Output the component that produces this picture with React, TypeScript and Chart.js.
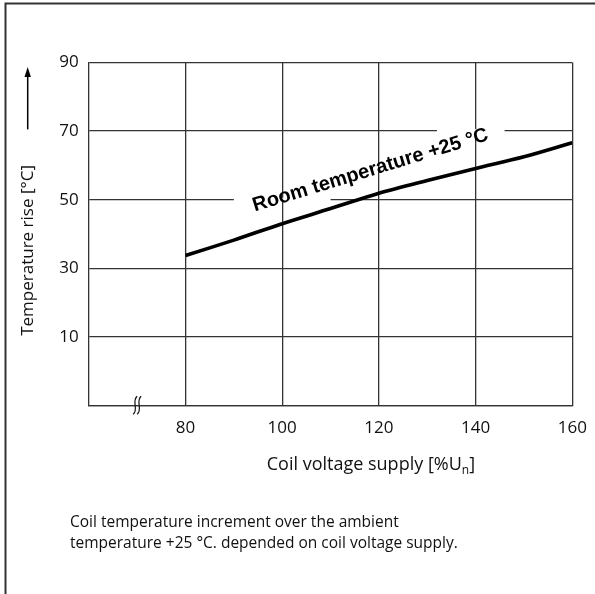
import React, { useEffect, useRef } from "react";
import { Chart, registerables } from "chart.js";

Chart.register(...registerables);

// ---- data ----
const voltage = [80, 90, 100, 110, 120, 130, 140, 150, 160];
const tempRise = [33.7, 38.2, 43.0, 47.4, 51.9, 55.6, 59.1, 62.5, 66.6];
const xTicks = [80, 100, 120, 140, 160];
const yTicks = [-10, 10, 30, 50, 70, 90];
const xMin = 60;
const xMax = 160;
const yMin = -10;
const yMax = 90;
const breakAt = 70;
const labelText = "Room temperature +25 °C";
const labelAt = [118.6, 57];
const gapY = [50, 70];
const gapFrom = [90, 132];
const gapTo = [110, 146];
const xTitle = "Coil voltage supply [%U";
const xTitleSub = "n";
const yTitle = "Temperature rise [°C]";
const captionLines = [
  "Coil temperature increment over the ambient",
  "temperature +25 °C. depended on coil voltage supply.",
];

const FONT = '"Open Sans", "Noto Sans", sans-serif';
const INK = "#111";
const GRID = "#333";

const decor = {
  id: "decor",
  beforeDatasetsDraw(chart: any) {
    const { ctx, scales } = chart;
    const x = scales.x;
    const y = scales.y;
    ctx.save();
    ctx.fillStyle = "#fff";
    gapY.forEach((v, i) => {
      const py = y.getPixelForValue(v);
      const a = x.getPixelForValue(gapFrom[i]);
      const b = x.getPixelForValue(gapTo[i]);
      ctx.fillRect(a, py - 2, b - a, 4);
    });
    ctx.restore();
  },
  afterDatasetsDraw(chart: any) {
    const { ctx, scales, chartArea } = chart;
    const x = scales.x;
    const y = scales.y;
    ctx.save();
    // annotation label
    ctx.translate(x.getPixelForValue(labelAt[0]), y.getPixelForValue(labelAt[1]));
    ctx.rotate((-17 * Math.PI) / 180);
    ctx.font = 'bold 20px "Liberation Sans", Arial, sans-serif';
    ctx.fillStyle = "#000";
    ctx.textAlign = "center";
    ctx.textBaseline = "alphabetic";
    ctx.fillText(labelText, 0, 0);
    ctx.restore();

    // axis break symbol
    ctx.save();
    const bx = x.getPixelForValue(breakAt);
    const by = chartArea.bottom;
    ctx.strokeStyle = "#111";
    ctx.lineWidth = 1.2;
    [bx - 2, bx + 2].forEach((cx) => {
      ctx.beginPath();
      ctx.moveTo(cx + 2, by - 9);
      ctx.bezierCurveTo(cx - 4, by - 4, cx + 4, by + 4, cx - 2, by + 9);
      ctx.stroke();
    });
    ctx.restore();

    // x title with subscript
    ctx.save();
    ctx.fillStyle = INK;
    ctx.textBaseline = "middle";
    ctx.textAlign = "left";
    ctx.font = `18px ${FONT}`;
    const tx = x.getPixelForValue(96.8);
    const ty = chartArea.bottom + 60;
    ctx.fillText(xTitle, tx, ty);
    const w = ctx.measureText(xTitle).width;
    ctx.font = `12px ${FONT}`;
    ctx.fillText(xTitleSub, tx + w, ty + 5);
    const ws = ctx.measureText(xTitleSub).width;
    ctx.font = `18px ${FONT}`;
    ctx.fillText("]", tx + w + ws, ty);
    ctx.restore();

    // y title
    ctx.save();
    ctx.fillStyle = INK;
    ctx.font = `17px ${FONT}`;
    ctx.textAlign = "center";
    ctx.textBaseline = "middle";
    ctx.translate(28.5, y.getPixelForValue(35.2));
    ctx.rotate(-Math.PI / 2);
    ctx.fillText(yTitle, 0, 0);
    ctx.restore();

    // arrow
    ctx.save();
    const ax = 27.7;
    const aTop = y.getPixelForValue(88.7);
    const aBot = y.getPixelForValue(70.5);
    ctx.strokeStyle = "#000";
    ctx.fillStyle = "#000";
    ctx.lineWidth = 1.5;
    ctx.beginPath();
    ctx.moveTo(ax, aBot);
    ctx.lineTo(ax, aTop + 8);
    ctx.stroke();
    ctx.beginPath();
    ctx.moveTo(ax, aTop);
    ctx.lineTo(ax - 3.2, aTop + 10);
    ctx.lineTo(ax + 3.2, aTop + 10);
    ctx.closePath();
    ctx.fill();
    ctx.restore();

    // caption
    ctx.save();
    ctx.fillStyle = "#111";
    ctx.font = `15.5px ${FONT}`;
    ctx.textBaseline = "middle";
    ctx.textAlign = "left";
    captionLines.forEach((line, i) => {
      ctx.fillText(line, 70, 522.6 + i * 21);
    });
    ctx.restore();

    // frame border (top & left)
    ctx.save();
    ctx.strokeStyle = "#333";
    ctx.lineWidth = 2;
    ctx.beginPath();
    ctx.moveTo(5.5, 594);
    ctx.lineTo(5.5, 3.5);
    ctx.lineTo(595, 3.5);
    ctx.stroke();
    ctx.restore();
  },
};

export default function App() {
  const ref = useRef<HTMLCanvasElement | null>(null);
  useEffect(() => {
    if (!ref.current) return;
    const chart = new Chart(ref.current, {
      type: "line",
      data: {
        datasets: [
          {
            data: voltage.map((v, i) => ({ x: v, y: tempRise[i] })),
            borderColor: "#000",
            borderWidth: 3.6,
            pointRadius: 0,
            tension: 0.3,
            fill: false,
          },
        ],
      },
      options: {
        animation: false,
        responsive: true,
        maintainAspectRatio: false,
        layout: { padding: { left: 0, top: 62.6, right: 22.7, bottom: 148.7 } },
        plugins: {
          legend: { display: false },
          tooltip: { enabled: false },
          title: { display: false },
        },
        scales: {
          x: {
            type: "linear",
            min: xMin,
            max: xMax,
            afterBuildTicks: (s: any) => {
              s.ticks = xTicks.map((v) => ({ value: v }));
            },
            afterFit: (s: any) => {
              s.height = 40;
              s.paddingRight = 0;
              s.paddingLeft = 0;
            },
            grid: { color: GRID, lineWidth: 1.3, drawTicks: false },
            border: { display: true, color: GRID, width: 1.3 },
            ticks: {
              padding: 13,
              color: INK,
              font: { family: FONT, size: 17 },
              maxRotation: 0,
            },
          },
          y: {
            type: "linear",
            min: yMin,
            max: yMax,
            afterBuildTicks: (s: any) => {
              s.ticks = yTicks.map((v) => ({ value: v }));
            },
            afterFit: (s: any) => {
              s.width = 88.8;
              s.paddingTop = 0;
              s.paddingBottom = 0;
            },
            grid: { color: GRID, lineWidth: 1.3, drawTicks: false },
            border: { display: true, color: GRID, width: 1.3 },
            ticks: {
              padding: 10,
              color: INK,
              font: { family: FONT, size: 17 },
              callback: (v: any) => (v === yMin ? "" : String(v)),
            },
          },
        },
      },
      plugins: [decor],
    });
    return () => chart.destroy();
  }, []);
  return (
    <div style={{ position: "absolute", left: 0, top: 0, width: 595, height: 594, background: "#fff" }}>
      <canvas ref={ref} />
    </div>
  );
}
